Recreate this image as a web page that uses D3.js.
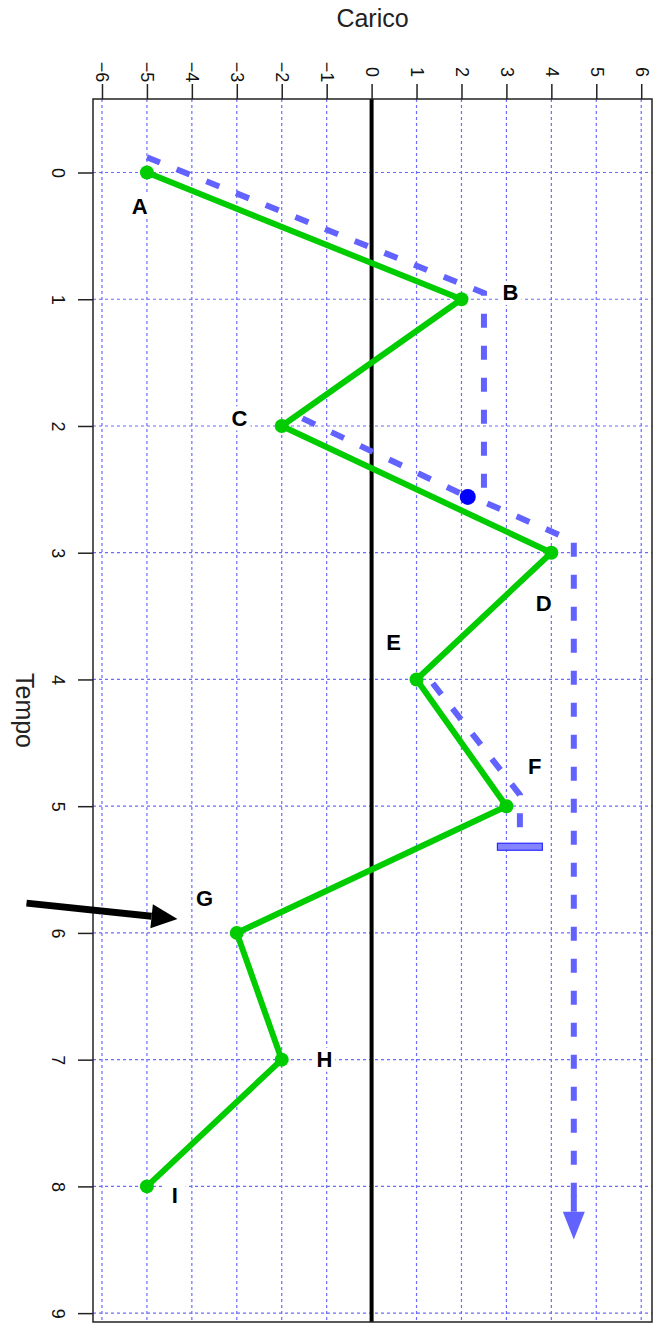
<!DOCTYPE html>
<html>
<head>
<meta charset="utf-8">
<script src="https://cdn.jsdelivr.net/npm/d3@7"></script>
<style>
body { margin: 0; background: #fff; }
text { font-family: "Liberation Sans", Arial, sans-serif; }
</style>
</head>
<body>
<div id="chart"></div>
<script>
w = 654;
h = 1326;

// storia di carico (punti di inversione)
var nomi   = ['A', 'B', 'C', 'D', 'E', 'F', 'G', 'H', 'I'];
var carico = [-5, 2, -2, 4, 1, 3, -3, -2, -5];
var tempo  = [0, 1, 2, 3, 4, 5, 6, 7, 8];

// dove stanno le lettere (carico, tempo)
var etichCarico = [-5.16, 3.09, -2.94, 3.83, 0.49, 3.63, -3.72, -1.05, -4.38];
var etichTempo  = [0.27, 0.95, 1.94, 3.40, 3.71, 4.69, 5.73, 7.0, 8.07];

var caricoTicks = [-6, -5, -4, -3, -2, -1, 0, 1, 2, 3, 4, 5, 6];
var tempoTicks  = [0, 1, 2, 3, 4, 5, 6, 7, 8, 9];

// percorsi della "pioggia" (rainflow), [carico, tempo]
var pioggia1 = [[-5, -0.12], [2.5, 0.95], [2.5, 2.6], [4.5, 2.91], [4.5, 8.2]];
var pioggia2 = [[-1.54, 1.94], [2.14, 2.56]];
var pioggia3 = [[1.36, 4.03], [3.3, 4.91], [3.3, 5.3]];
var goccia   = [2.14, 2.56];           // punto blu
var fermo    = [2.8, 3.8, 5.32];       // barretta di arresto: da, a, tempo
var punta    = [4.5, 8.2, 8.42];       // freccia finale: carico, base, punta
var freccia  = [[-7.68, 5.765], [-4.32, 5.89]];  // freccia nera

var xScale = d3.scaleLinear().domain([-6.2, 6.24]).range([93, 652]);
var yScale = d3.scaleLinear().domain([-0.58, 9.07]).range([99, 1322]);

var svg = d3.select('#chart').append('svg')
	.attr('width', w)
	.attr('height', h);

// griglia
svg.append('g').selectAll('line').data(caricoTicks).enter().append('line')
	.attr('x1', function(d) { return xScale(d); })
	.attr('x2', function(d) { return xScale(d); })
	.attr('y1', yScale.range()[0])
	.attr('y2', yScale.range()[1])
	.style('stroke', '#6b6bff')
	.style('stroke-width', 1.2)
	.style('stroke-dasharray', '3,3');
svg.append('g').selectAll('line').data(tempoTicks).enter().append('line')
	.attr('y1', function(d) { return yScale(d); })
	.attr('y2', function(d) { return yScale(d); })
	.attr('x1', xScale.range()[0])
	.attr('x2', xScale.range()[1])
	.style('stroke', '#6b6bff')
	.style('stroke-width', 1.2)
	.style('stroke-dasharray', '3,3');

// linea dello zero
svg.append('line')
	.attr('x1', xScale(0)).attr('x2', xScale(0))
	.attr('y1', yScale.range()[0]).attr('y2', yScale.range()[1])
	.style('stroke', '#000')
	.style('stroke-width', 4);

// cornice
svg.append('rect')
	.attr('x', xScale.range()[0])
	.attr('y', yScale.range()[0])
	.attr('width', xScale.range()[1] - xScale.range()[0])
	.attr('height', yScale.range()[1] - yScale.range()[0])
	.style('fill', 'none')
	.style('stroke', '#222')
	.style('stroke-width', 1.5);

// assi
xAxis = d3.axisTop(xScale).tickValues(caricoTicks).tickSize(15).tickSizeOuter(0);
xAxisG = svg.append('g')
	.attr('transform', 'translate(0,' + yScale.range()[0] + ')')
	.call(xAxis);
xAxisG.selectAll('text')
	.attr('y', 0).attr('dy', null)
	.attr('transform', 'translate(0,-27) rotate(90)')
	.attr('text-anchor', 'middle')
	.attr('dominant-baseline', 'central');

yAxis = d3.axisLeft(yScale).tickValues(tempoTicks).tickSize(15).tickSizeOuter(0);
yAxisG = svg.append('g')
	.attr('transform', 'translate(' + xScale.range()[0] + ',0)')
	.call(yAxis);
yAxisG.selectAll('text')
	.attr('x', 0).attr('dy', null)
	.attr('transform', 'translate(-35,0) rotate(90)')
	.attr('text-anchor', 'middle')
	.attr('dominant-baseline', 'central');

svg.selectAll('.domain').remove();
svg.selectAll('.tick line').style('stroke', '#222').style('stroke-width', 1.5);
svg.selectAll('.tick text')
	.attr('font-family', '"Liberation Sans", Arial, sans-serif')
	.attr('font-size', 18)
	.style('fill', '#111');

// titoli
svg.append('text')
	.attr('x', (xScale.range()[0] + xScale.range()[1]) / 2)
	.attr('y', 18)
	.attr('text-anchor', 'middle')
	.attr('dominant-baseline', 'central')
	.attr('font-size', 25)
	.style('fill', '#222')
	.text('Carico');
svg.append('text')
	.attr('transform', 'translate(25,' + ((yScale.range()[0] + yScale.range()[1]) / 2) + ') rotate(90)')
	.attr('text-anchor', 'middle')
	.attr('dominant-baseline', 'central')
	.attr('font-size', 25)
	.style('fill', '#222')
	.text('Tempo');

var line = d3.line()
	.x(function(d) { return xScale(d[0]); })
	.y(function(d) { return yScale(d[1]); });

// storia di carico
var storia = carico.map(function(c, i) { return [c, tempo[i]]; });
svg.append('path')
	.attr('d', line(storia))
	.style('fill', 'none')
	.style('stroke', '#00cc00')
	.style('stroke-width', 6)
	.style('stroke-linejoin', 'round');
svg.append('g').selectAll('circle').data(storia).enter().append('circle')
	.attr('cx', function(d) { return xScale(d[0]); })
	.attr('cy', function(d) { return yScale(d[1]); })
	.attr('r', 7)
	.style('fill', '#00cc00');

// pioggia
[pioggia1, pioggia2, pioggia3].forEach(function(p) {
	svg.append('path')
		.attr('d', line(p))
		.style('fill', 'none')
		.style('stroke', '#6262ff')
		.style('stroke-width', 6)
		.style('stroke-dasharray', '14,18');
});

svg.append('path')
	.attr('d', 'M' + (xScale(punta[0]) - 11) + ',' + yScale(punta[1]) +
		'L' + (xScale(punta[0]) + 11) + ',' + yScale(punta[1]) +
		'L' + xScale(punta[0]) + ',' + yScale(punta[2]) + 'Z')
	.style('fill', '#6262ff');
svg.append('line')
	.attr('x1', xScale(punta[0])).attr('x2', xScale(punta[0]))
	.attr('y1', yScale(punta[1]) - 16).attr('y2', yScale(punta[1]))
	.style('stroke', '#6262ff')
	.style('stroke-width', 6);

svg.append('rect')
	.attr('x', xScale(fermo[0]))
	.attr('y', yScale(fermo[2]) - 3.5)
	.attr('width', xScale(fermo[1]) - xScale(fermo[0]))
	.attr('height', 7)
	.style('fill', '#8484ff')
	.style('stroke', '#2a2aff')
	.style('stroke-width', 1.2);

svg.append('circle')
	.attr('cx', xScale(goccia[0]))
	.attr('cy', yScale(goccia[1]))
	.attr('r', 8)
	.style('fill', '#0000ff');

// lettere con sfondo bianco
var lab = svg.append('g').selectAll('g').data(nomi).enter().append('g')
	.attr('transform', function(d, i) {
		return 'translate(' + xScale(etichCarico[i]) + ',' + yScale(etichTempo[i]) + ')';
	});
lab.append('rect')
	.attr('x', -11).attr('y', -12)
	.attr('width', 22).attr('height', 24)
	.style('fill', '#fff');
lab.append('text')
	.attr('text-anchor', 'middle')
	.attr('dominant-baseline', 'central')
	.attr('font-size', 22)
	.attr('font-weight', 'bold')
	.style('fill', '#000')
	.text(function(d) { return d; });

// freccia nera
var ax1 = xScale(freccia[0][0]), ay1 = yScale(freccia[0][1]);
var ax2 = xScale(freccia[1][0]), ay2 = yScale(freccia[1][1]);
var ang = Math.atan2(ay2 - ay1, ax2 - ax1);
var hl = 26, hw = 12;
var bx = ax2 - hl * Math.cos(ang), by = ay2 - hl * Math.sin(ang);
svg.append('line')
	.attr('x1', ax1).attr('y1', ay1)
	.attr('x2', bx).attr('y2', by)
	.style('stroke', '#000')
	.style('stroke-width', 7);
svg.append('path')
	.attr('d', 'M' + ax2 + ',' + ay2 +
		'L' + (bx - hw * Math.sin(ang)) + ',' + (by + hw * Math.cos(ang)) +
		'L' + (bx + hw * Math.sin(ang)) + ',' + (by - hw * Math.cos(ang)) + 'Z')
	.style('fill', '#000');
</script>
</body>
</html>
